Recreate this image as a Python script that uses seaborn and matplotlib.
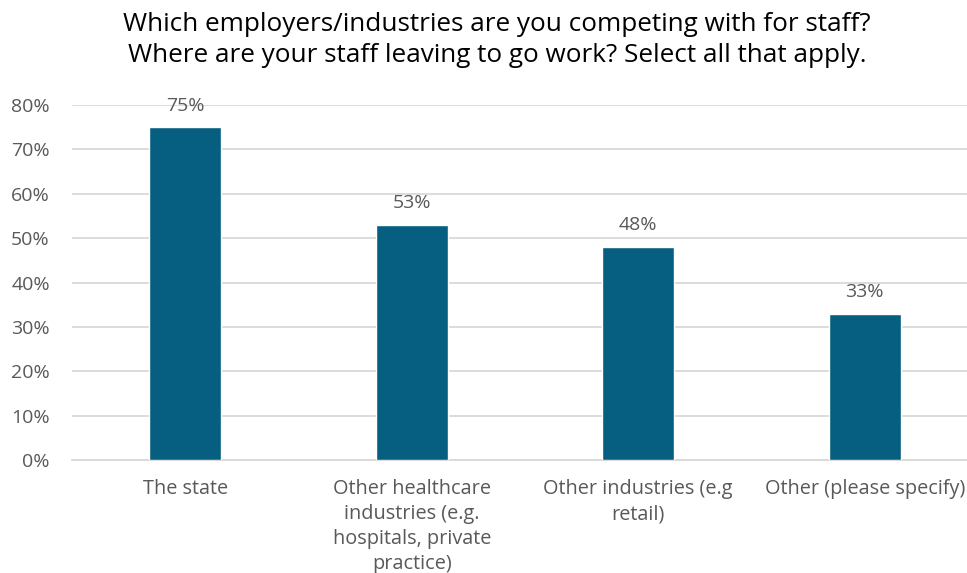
import matplotlib
matplotlib.use("Agg")
import matplotlib.pyplot as plt
import seaborn as sns
import pandas as pd

categories = [
    "The state",
    "Other healthcare\nindustries (e.g.\nhospitals, private\npractice)",
    "Other industries (e.g\nretail)",
    "Other (please specify)",
]
shares = [0.75, 0.53, 0.48, 0.33]
y_ticks = [0.0, 0.1, 0.2, 0.3, 0.4, 0.5, 0.6, 0.7, 0.8]
title = ("Which employers/industries are you competing with for staff?\n"
         "Where are your staff leaving to go work? Select all that apply.")

sns.set_theme(style="white")
plt.rcParams["font.family"] = ["Open Sans", "DejaVu Sans"]

bar_color = "#065E80"
text_grey = "#595959"
grid_grey = "#D9D9D9"

df = pd.DataFrame({"category": categories, "share": shares})

fig = plt.figure(figsize=(9.67, 5.73), dpi=100)
ax = fig.add_axes([72 / 967, 1 - 460 / 573, (967 - 72) / 967, (460 - 105) / 573])

sns.barplot(data=df, x="category", y="share", color=bar_color,
            width=0.32, saturation=1, ax=ax, zorder=3)

ax.set_ylim(0, 0.8)
ax.set_xlim(-0.5, 3.5 - 11 / 226.7)
ax.set_yticks(y_ticks)
ax.set_yticklabels([f"{int(round(v * 100))}%" for v in y_ticks])
ax.grid(axis="y", color=grid_grey, linewidth=1.3, zorder=0)
ax.set_axisbelow(True)

for side in ["top", "right", "left"]:
    ax.spines[side].set_visible(False)
ax.spines["bottom"].set_color(grid_grey)
ax.spines["bottom"].set_linewidth(1.3)

ax.tick_params(axis="y", length=0, labelsize=14, colors=text_grey, pad=16)
ax.tick_params(axis="x", length=0, labelsize=14.3, colors=text_grey, pad=14)
for lbl in ax.get_xticklabels():
    lbl.set_linespacing(1.32)
    lbl.set_verticalalignment("top")

ax.set_xlabel("")
ax.set_ylabel("")

for i, v in enumerate(shares):
    ax.annotate(f"{int(round(v * 100))}%", xy=(i, v), xytext=(0, 9),
                textcoords="offset points", ha="center", va="bottom",
                fontsize=14, color=text_grey)

fig.text(0.514, 1 - 40 / 573, title, ha="center", va="center",
         fontsize=18.8, color="#000000", linespacing=1.3)

fig.savefig("out.png", dpi=100, facecolor="white")
